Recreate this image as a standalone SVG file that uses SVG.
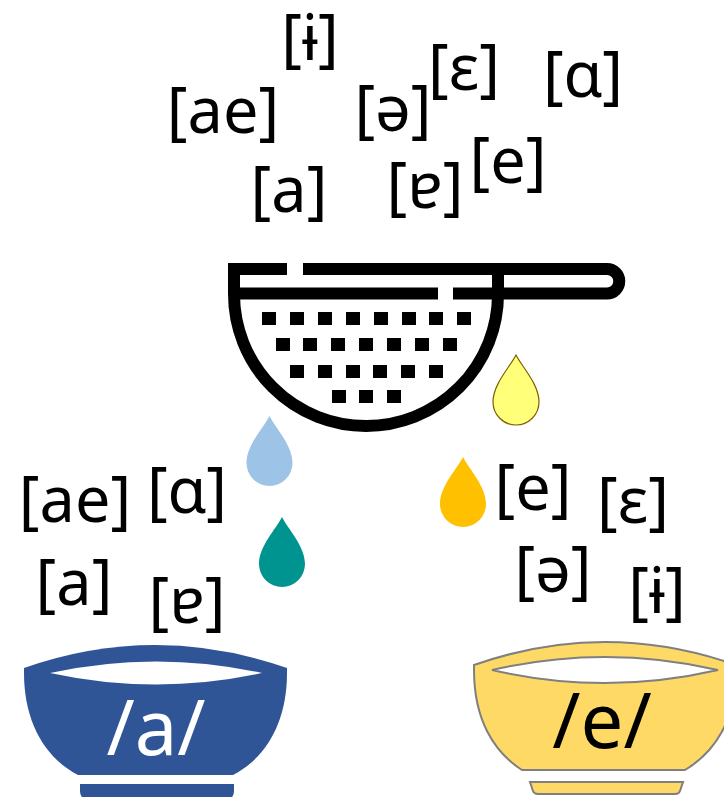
<svg xmlns="http://www.w3.org/2000/svg" width="724" height="797" viewBox="0 0 724 797">
<defs>
<style>
.t{font-family:"Noto Sans","Open Sans","DejaVu Sans",sans-serif;font-size:63px;fill:#000;text-anchor:middle}
.b{font-family:"Noto Sans","Open Sans","DejaVu Sans",sans-serif;font-size:76px;text-anchor:middle}
.s{fill:none;stroke:#000;stroke-width:12}
.h{fill:#000}
</style>
<path id="drop" d="M0 -47 C6 -35 23 -18 23 0 A23 23 0 0 1 -23 0 C-23 -18 -6 -35 0 -47 Z"/>
</defs>
<rect width="724" height="797" fill="#fff"/>

<g id="strainer">
<path class="s" d="M287 269 H234 V294 A132 132 0 0 0 498 294 V269"/>
<path class="s" d="M303 269 H607 A12.25 12.25 0 0 1 607 293.5 H498"/>
<path class="s" d="M234 293.5 H438 M453 293.5 H498"/>
<g class="h">
<rect x="262" y="312" width="14" height="13"/><rect x="290" y="312" width="14" height="13"/><rect x="318" y="312" width="14" height="13"/><rect x="346" y="312" width="14" height="13"/><rect x="374" y="312" width="14" height="13"/><rect x="402" y="312" width="14" height="13"/><rect x="429" y="312" width="14" height="13"/><rect x="457" y="312" width="14" height="13"/>
<rect x="276" y="338" width="14" height="13"/><rect x="303" y="338" width="14" height="13"/><rect x="331" y="338" width="14" height="13"/><rect x="359" y="338" width="14" height="13"/><rect x="387" y="338" width="14" height="13"/><rect x="415" y="338" width="14" height="13"/><rect x="443" y="338" width="14" height="13"/>
<rect x="290" y="365" width="14" height="13"/><rect x="318" y="365" width="14" height="13"/><rect x="346" y="365" width="14" height="13"/><rect x="373" y="365" width="14" height="13"/><rect x="401" y="365" width="14" height="13"/><rect x="429" y="365" width="14" height="13"/>
<rect x="332" y="390" width="14" height="13"/><rect x="359" y="390" width="14" height="13"/><rect x="387" y="390" width="14" height="13"/>
</g>
</g>

<g id="drops">
<use href="#drop" transform="translate(516,402)" fill="#FFFF79" stroke="#7F6000" stroke-width="1.2"/>
<use href="#drop" transform="translate(269.5,463)" fill="#9DC3E6"/>
<use href="#drop" transform="translate(282,564)" fill="#009490"/>
<use href="#drop" transform="translate(463,504)" fill="#FFC000"/>
</g>

<g id="top-sounds">
<text class="t" x="310" y="60">[ɨ]</text>
<text class="t" x="223" y="133">[ae]</text>
<text class="t" x="393" y="131">[ə]</text>
<text class="t" x="289" y="212">[a]</text>
<text class="t" x="425" y="208">[ɐ]</text>
<text class="t" x="464" y="90">[ɛ]</text>
<text class="t" x="583" y="97">[ɑ]</text>
<text class="t" x="508" y="183">[e]</text>
</g>

<g id="left-sounds">
<text class="t" x="75" y="522">[ae]</text>
<text class="t" x="187" y="513">[ɑ]</text>
<text class="t" x="74" y="605">[a]</text>
<text class="t" x="187" y="623">[ɐ]</text>
</g>

<g id="right-sounds">
<text class="t" x="533" y="510">[e]</text>
<text class="t" x="633" y="523">[ɛ]</text>
<text class="t" x="553" y="592">[ə]</text>
<text class="t" x="657" y="613">[ɨ]</text>
</g>

<g id="bowl-a">
<path fill="#2F5597" d="M24 668 Q155 622 287 668 L287 673 C287 722 266 758 233 775 L78 775 C45 758 24 722 24 673 Z"/>
<path fill="#fff" d="M50 673 Q156 650 262 673 Q156 696 50 673 Z"/>
<path fill="#2F5597" d="M80 784 H234 V791 Q234 800 224 800 H90 Q80 800 80 791 Z"/>
<text class="b" x="156" y="755" fill="#fff">/a/</text>
</g>

<g id="bowl-e">
<path fill="#FFD966" stroke="#7F7F7F" stroke-width="2" d="M474 665 Q605 619 736 665 L736 670 C736 720 715 752 685 770 L522 770 C494 752 474 720 474 670 Z"/>
<path fill="#fff" stroke="#7F7F7F" stroke-width="2" d="M492 670 Q605 644 718 670 Q605 696 492 670 Z"/>
<path fill="#FFD966" stroke="#7F7F7F" stroke-width="2" d="M530 782 H683 L680 791 Q679 794 675 794 H538 Q534 794 533 791 Z"/>
<text class="b" x="602" y="748" fill="#000">/e/</text>
</g>
</svg>
